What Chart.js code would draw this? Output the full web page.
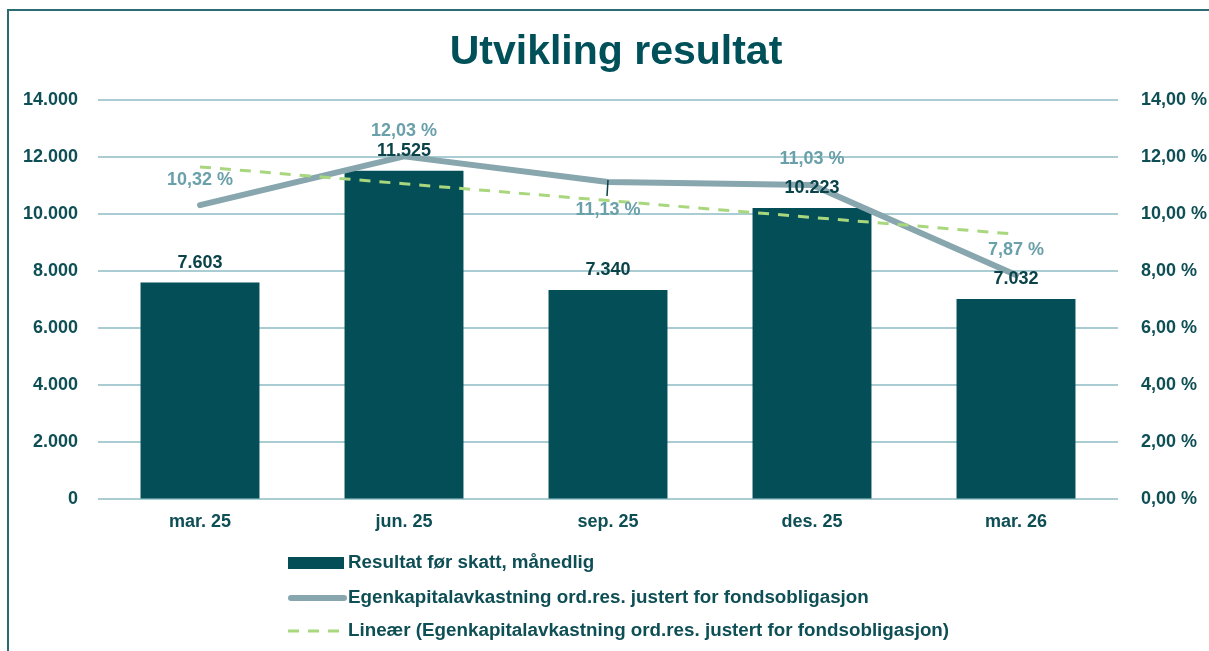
<!DOCTYPE html>
<html>
<head>
<meta charset="utf-8">
<script src="https://cdn.jsdelivr.net/npm/chart.js@4.4.1/dist/chart.umd.min.js"></script>
<style>
  html, body { margin: 0; padding: 0; background: #ffffff; }
  #wrap { width: 1209px; height: 651px; position: relative; }
</style>
</head>
<body>
<div id="wrap"><canvas id="c" width="1209" height="651"></canvas></div>
<script>
// ---- data ----
const categories = ['mar. 25', 'jun. 25', 'sep. 25', 'des. 25', 'mar. 26'];
const resultat = [7603, 11525, 7340, 10223, 7032];
const egenkapitalavkastning = [10.32, 12.03, 11.13, 11.03, 7.87];
const trendValues = [11.66, 11.07, 10.48, 9.89, 9.30];
const leftTicks = [0, 2000, 4000, 6000, 8000, 10000, 12000, 14000];
const rightTicks = [0, 2, 4, 6, 8, 10, 12, 14];
const seriesNames = [
  'Resultat før skatt, månedlig',
  'Egenkapitalavkastning ord.res. justert for fondsobligasjon',
  'Lineær (Egenkapitalavkastning ord.res. justert for fondsobligasjon)'
];

// ---- styles ----
const FONT = '"Liberation Sans", Arial, sans-serif';
const C_BAR = '#034E57';
const C_LINE = '#87A6AE';
const C_LINELBL = '#6AA0AA';
const C_TREND = '#A9D77E';
const C_TEXT = '#0E4E55';
const C_GRID = '#A9CDD2';
const lineLabelOffsets = [-25, -25, 28, -26, -25];

function fmtThousands(v) {
  return String(Math.round(v)).replace(/\B(?=(\d{3})+(?!\d))/g, '.');
}
function fmtPct(v) {
  return v.toFixed(2).replace('.', ',') + ' %';
}

const decorPlugin = {
  id: 'decor',
  beforeDraw(chart) {
    const ctx = chart.ctx;
    ctx.save();
    ctx.strokeStyle = '#2A6C72';
    ctx.lineWidth = 2;
    ctx.beginPath();
    ctx.moveTo(8, 651);
    ctx.lineTo(8, 10);
    ctx.lineTo(1209, 10);
    ctx.stroke();
    ctx.restore();
  },
  afterDatasetsDraw(chart) {
    const ctx = chart.ctx;
    ctx.save();
    ctx.textAlign = 'center';
    ctx.textBaseline = 'middle';
    ctx.font = 'bold 18px ' + FONT;
    // bar labels
    const barMeta = chart.getDatasetMeta(0);
    barMeta.data.forEach((el, i) => {
      ctx.fillStyle = '#0B434A';
      ctx.fillText(fmtThousands(resultat[i]), el.x, el.y - 20);
    });
    // line labels
    const lineMeta = chart.getDatasetMeta(1);
    lineMeta.data.forEach((el, i) => {
      const off = lineLabelOffsets[i];
      if (off > 0) {
        ctx.strokeStyle = '#0B434A';
        ctx.lineWidth = 1.5;
        ctx.beginPath();
        ctx.moveTo(el.x, el.y - 2);
        ctx.lineTo(el.x - 1, el.y + off - 14);
        ctx.stroke();
      }
      ctx.fillStyle = C_LINELBL;
      ctx.fillText(fmtPct(egenkapitalavkastning[i]), el.x, el.y + off);
    });
    ctx.restore();
  },
  afterDraw(chart) {
    const ctx = chart.ctx;
    ctx.save();
    const x0 = 288, x1 = 344, tx = 348;
    const rows = [563, 598, 631];
    // bar swatch
    ctx.fillStyle = C_BAR;
    ctx.fillRect(x0, rows[0] - 6, x1 - x0, 12);
    // line swatch
    ctx.strokeStyle = C_LINE;
    ctx.lineWidth = 6;
    ctx.lineCap = 'round';
    ctx.beginPath();
    ctx.moveTo(x0 + 3, rows[1]);
    ctx.lineTo(x1, rows[1]);
    ctx.stroke();
    // trend swatch
    ctx.strokeStyle = C_TREND;
    ctx.lineWidth = 3;
    ctx.lineCap = 'butt';
    ctx.setLineDash([11, 9]);
    ctx.beginPath();
    ctx.moveTo(x0, rows[2]);
    ctx.lineTo(x1 + 2, rows[2]);
    ctx.stroke();
    ctx.setLineDash([]);
    // texts
    ctx.font = 'bold 18.8px ' + FONT;
    ctx.fillStyle = C_TEXT;
    ctx.textAlign = 'left';
    ctx.textBaseline = 'middle';
    seriesNames.forEach((n, i) => ctx.fillText(n, tx, rows[i]));
    ctx.restore();
  }
};

new Chart(document.getElementById('c'), {
  data: {
    labels: categories,
    datasets: [
      {
        type: 'bar',
        label: seriesNames[0],
        data: resultat,
        backgroundColor: C_BAR,
        yAxisID: 'y',
        categoryPercentage: 1,
        barPercentage: 0.583,
        order: 3
      },
      {
        type: 'line',
        label: seriesNames[1],
        data: egenkapitalavkastning,
        borderColor: C_LINE,
        borderWidth: 6,
        borderCapStyle: 'round',
        borderJoinStyle: 'round',
        pointRadius: 0,
        tension: 0,
        yAxisID: 'y1',
        order: 2
      },
      {
        type: 'line',
        label: seriesNames[2],
        data: trendValues,
        borderColor: C_TREND,
        borderWidth: 3,
        borderDash: [11, 9],
        pointRadius: 0,
        tension: 0,
        yAxisID: 'y1',
        order: 1
      }
    ]
  },
  options: {
    responsive: false,
    animation: false,
    layout: { padding: { top: 0, left: 23, right: 0, bottom: 106 } },
    plugins: {
      legend: { display: false },
      tooltip: { enabled: false },
      title: {
        display: true,
        text: 'Utvikling resultat',
        color: '#00505A',
        font: { family: FONT, size: 41, weight: 'bold' },
        padding: { top: 28, bottom: 23 }
      }
    },
    scales: {
      x: {
        grid: { display: false, drawTicks: false },
        border: { display: false },
        ticks: {
          color: C_TEXT,
          font: { family: FONT, size: 18, weight: 'bold' },
          padding: 12,
          maxRotation: 0
        }
      },
      y: {
        position: 'left',
        min: 0,
        max: 14000,
        afterBuildTicks(axis) { axis.ticks = leftTicks.map(v => ({ value: v })); },
        afterFit(axis) { axis.width = 75; },
        grid: { color: C_GRID, lineWidth: 2, drawTicks: false },
        border: { display: false },
        ticks: {
          color: C_TEXT,
          font: { family: FONT, size: 18, weight: 'bold' },
          padding: 20,
          callback: v => fmtThousands(v)
        }
      },
      y1: {
        position: 'right',
        min: 0,
        max: 14,
        afterBuildTicks(axis) { axis.ticks = rightTicks.map(v => ({ value: v })); },
        afterFit(axis) { axis.width = 91; },
        grid: { display: false, drawTicks: false },
        border: { display: false },
        ticks: {
          color: C_TEXT,
          font: { family: FONT, size: 18, weight: 'bold' },
          padding: 23,
          callback: v => fmtPct(v)
        }
      }
    }
  },
  plugins: [decorPlugin]
});
</script>
</body>
</html>
